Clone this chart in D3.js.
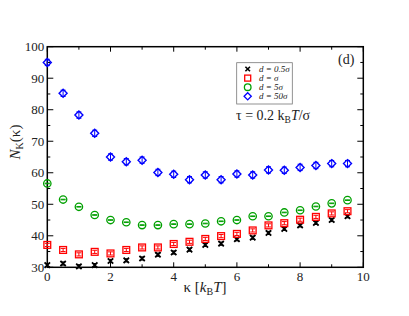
<!DOCTYPE html>
<html>
<head>
<meta charset="utf-8">
<script src="https://cdn.jsdelivr.net/npm/d3@7.9.0/dist/d3.min.js"></script>
<style>
  body { margin: 0; background: #fff; }
  svg text { font-family: "Liberation Serif", "Times New Roman", serif; }
</style>
</head>
<body>
<svg id="chart" width="409" height="316"></svg>
<script>
// kappa values (k_B T)
const kappa = [0, 0.5, 1, 1.5, 2, 2.5, 3, 3.5, 4, 4.5, 5, 5.5, 6, 6.5, 7, 7.5, 8, 8.5, 9, 9.5];

// N_K(kappa) for each d
const d05 = [30.7, 31.2, 30.3, 30.7, 32.0, 32.2, 32.8, 34.0, 34.7, 35.6, 37.1, 37.5, 38.9, 39.4, 40.9, 42.2, 43.3, 44.1, 45.0, 46.2];
const d1  = [37.1, 35.5, 34.1, 34.9, 34.4, 35.5, 36.3, 36.3, 37.4, 38.1, 39.0, 39.9, 40.6, 41.7, 43.3, 44.0, 45.1, 46.0, 47.1, 47.8];
const d5  = [56.6, 51.5, 49.2, 46.6, 45.0, 44.3, 43.4, 43.4, 43.7, 43.7, 43.9, 44.6, 45.0, 46.2, 46.2, 47.4, 48.1, 49.3, 50.3, 51.3];
const d50 = [95.0, 85.2, 78.3, 72.5, 65.0, 63.5, 64.0, 60.1, 59.5, 57.8, 59.3, 57.8, 59.6, 59.3, 60.9, 60.8, 61.7, 62.3, 62.9, 62.9];

// approximate error bar half-widths
const errs = [0.5, 0.5, 0.1, 1.0];

const seriesNames = ["0.5σ", "σ", "5σ", "50σ"];
const seriesColors = ["#000000", "#ff0000", "#00a000", "#0000ff"];
const seriesShapes = ["cross", "square", "circle", "diamond"];
const seriesValues = [d05, d1, d5, d50];

const xTicks = [0, 2, 4, 6, 8, 10];
const yTicks = [30, 40, 50, 60, 70, 80, 90, 100];

const svg = d3.select("#chart");
const margin = { left: 47.3, right: 45.7, top: 46.7, bottom: 48.7 };
const W = 409, H = 316;

const x = d3.scaleLinear().domain([0, 10]).range([margin.left, W - margin.right]);
const y = d3.scaleLinear().domain([30, 100]).range([H - margin.bottom, margin.top]);

// --- ticks (inward) ---
const tickG = svg.append("g").attr("stroke", "#000").attr("stroke-width", 1);
d3.range(0, 10.01, 1).forEach(v => {
  const len = v % 2 === 0 ? 5 : 3;
  tickG.append("line").attr("x1", x(v)).attr("x2", x(v)).attr("y1", y(30)).attr("y2", y(30) - len);
  tickG.append("line").attr("x1", x(v)).attr("x2", x(v)).attr("y1", y(100)).attr("y2", y(100) + len);
});
d3.range(30, 100.01, 5).forEach(v => {
  const len = v % 10 === 0 ? 6 : 3;
  tickG.append("line").attr("x1", x(0)).attr("x2", x(0) + len).attr("y1", y(v)).attr("y2", y(v));
  tickG.append("line").attr("x1", x(10)).attr("x2", x(10) - len).attr("y1", y(v)).attr("y2", y(v));
});

// frame
svg.append("rect")
  .attr("x", x(0)).attr("y", y(100))
  .attr("width", x(10) - x(0)).attr("height", y(30) - y(100))
  .attr("fill", "none").attr("stroke", "#000").attr("stroke-width", 1.5);

// tick labels
svg.append("g").selectAll("text").data(xTicks).join("text")
  .attr("x", d => x(d)).attr("y", y(30) + 14)
  .attr("text-anchor", "middle").attr("font-size", 13).attr("fill", "#222")
  .text(d => d);
svg.append("g").selectAll("text").data(yTicks).join("text")
  .attr("x", x(0) - 3).attr("y", d => y(d) + 4.5)
  .attr("text-anchor", "end").attr("font-size", 13).attr("fill", "#222")
  .text(d => d);

// axis labels
const xl = svg.append("text").attr("x", 205).attr("y", 292)
  .attr("text-anchor", "middle").attr("font-size", 15).attr("fill", "#222");
xl.append("tspan").text("κ [");
xl.append("tspan").attr("font-style", "italic").text("k");
xl.append("tspan").attr("font-size", 10).attr("dy", 3).text("B");
xl.append("tspan").attr("font-style", "italic").attr("dy", -3).text("T");
xl.append("tspan").text("]");

const yl = svg.append("text").attr("transform", "translate(20,142) rotate(-90)")
  .attr("text-anchor", "middle").attr("font-size", 15).attr("fill", "#222");
yl.append("tspan").attr("font-style", "italic").text("N");
yl.append("tspan").attr("font-size", 10).attr("dy", 3).text("K");
yl.append("tspan").attr("dy", -3).text("(κ)");

// --- markers ---
function drawMarker(g, shape, color, cx, cy) {
  if (shape === "cross") {
    g.append("path").attr("d", `M${cx - 2.7},${cy - 2.7}L${cx + 2.7},${cy + 2.7}M${cx - 2.7},${cy + 2.7}L${cx + 2.7},${cy - 2.7}`)
      .attr("stroke", color).attr("stroke-width", 1.8).attr("fill", "none");
  } else if (shape === "square") {
    g.append("rect").attr("x", cx - 3.4).attr("y", cy - 3.4).attr("width", 6.8).attr("height", 6.8)
      .attr("stroke", color).attr("stroke-width", 1.3).attr("fill", "none");
  } else if (shape === "circle") {
    g.append("circle").attr("cx", cx).attr("cy", cy).attr("r", 3.7)
      .attr("stroke", color).attr("stroke-width", 1.3).attr("fill", "none");
  } else {
    g.append("path").attr("d", `M${cx},${cy - 4}L${cx + 4},${cy}L${cx},${cy + 4}L${cx - 4},${cy}Z`)
      .attr("stroke", color).attr("stroke-width", 1.4).attr("fill", "none");
  }
}

seriesValues.forEach((vals, si) => {
  const g = svg.append("g");
  const color = seriesColors[si];
  vals.forEach((v, i) => {
    const cx = x(kappa[i]), cy = y(v);
    const y1 = y(v + errs[si]), y2 = y(v - errs[si]);
    g.append("path")
      .attr("d", `M${cx},${y1}L${cx},${y2}M${cx - 2.5},${y1}L${cx + 2.5},${y1}M${cx - 2.5},${y2}L${cx + 2.5},${y2}`)
      .attr("stroke", color).attr("stroke-width", 1).attr("fill", "none");
    drawMarker(g, seriesShapes[si], color, cx, cy);
  });
});

// --- legend ---
const leg = svg.append("g");
leg.append("rect").attr("x", 236.7).attr("y", 62.7).attr("width", 55.6).attr("height", 41.3)
  .attr("fill", "#fff").attr("stroke", "#777").attr("stroke-width", 0.8);
seriesNames.forEach((name, i) => {
  const ly = 69 + i * 9.1;
  const lg = leg.append("g");
  if (seriesShapes[i] === "cross") {
    lg.append("path").attr("d", `M${247.7 - 2.3},${ly - 2.3}L${247.7 + 2.3},${ly + 2.3}M${247.7 - 2.3},${ly + 2.3}L${247.7 + 2.3},${ly - 2.3}`)
      .attr("stroke", "#000").attr("stroke-width", 1.6);
  } else if (seriesShapes[i] === "square") {
    lg.append("rect").attr("x", 244.7).attr("y", ly - 3).attr("width", 6).attr("height", 6)
      .attr("stroke", seriesColors[i]).attr("stroke-width", 1.3).attr("fill", "none");
  } else if (seriesShapes[i] === "circle") {
    lg.append("circle").attr("cx", 247.7).attr("cy", ly).attr("r", 3.3)
      .attr("stroke", seriesColors[i]).attr("stroke-width", 1.3).attr("fill", "none");
  } else {
    lg.append("path").attr("d", `M247.7,${ly - 3.6}L${247.7 + 3.6},${ly}L247.7,${ly + 3.6}L${247.7 - 3.6},${ly}Z`)
      .attr("stroke", seriesColors[i]).attr("stroke-width", 1.3).attr("fill", "none");
  }
  const t = lg.append("text").attr("x", 259).attr("y", ly + 3)
    .attr("font-size", 9).attr("font-style", "italic").attr("fill", "#222");
  t.append("tspan").text("d");
  t.append("tspan").text(" = " + name);
});

// annotations
const tau = svg.append("text").attr("x", 236).attr("y", 120).attr("font-size", 14).attr("fill", "#222");
tau.append("tspan").text("τ = 0.2 k");
tau.append("tspan").attr("font-size", 9.5).attr("dy", 3).text("B");
tau.append("tspan").attr("font-style", "italic").attr("dy", -3).text("T");
tau.append("tspan").text("/σ");

svg.append("text").attr("x", 338).attr("y", 64).attr("font-size", 14).attr("fill", "#222").text("(d)");
</script>
</body>
</html>
